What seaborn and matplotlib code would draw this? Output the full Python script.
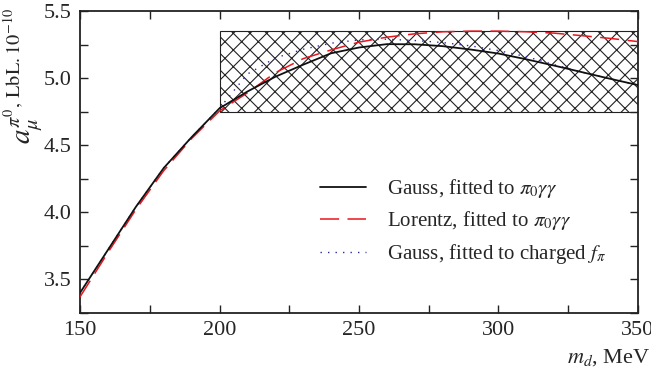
import matplotlib
matplotlib.use("Agg")
import matplotlib.pyplot as plt
import seaborn as sns
from matplotlib.patches import Rectangle
from matplotlib.ticker import MultipleLocator, FormatStrFormatter

# ── Data ──────────────────────────────────────────────────────────────────────
m_d = [150, 160, 170, 180, 190, 200, 210, 220, 230, 240, 250,
       260, 270, 280, 290, 300, 310, 320, 330, 340, 350]

gauss_pi0 = [3.40, 3.72, 4.04, 4.33, 4.56, 4.775, 4.90, 5.01, 5.10, 5.185, 5.228,
             5.253, 5.252, 5.238, 5.213, 5.183, 5.140, 5.093, 5.044, 4.995, 4.948]

lorentz_pi0 = [3.37, 3.70, 4.02, 4.31, 4.55, 4.755, 4.89, 5.04, 5.145, 5.21, 5.268,
               5.305, 5.33, 5.345, 5.35, 5.35, 5.345, 5.335, 5.316, 5.296, 5.272]

gauss_charged = [3.40, 3.72, 4.04, 4.33, 4.56, 4.775, 5.03, 5.15, 5.215, 5.26, 5.285,
                 5.29, 5.28, 5.265, 5.24, 5.205, 5.16, 5.10, 5.044, 4.995, 4.948]

band_x = [200, 350]
band_y = [4.75, 5.35]

labels = [r"Gauss, fitted to $\pi_0\gamma\gamma$",
          r"Lorentz, fitted to $\pi_0\gamma\gamma$",
          r"Gauss, fitted to charged $f_\pi$"]

# ── Style ────────────────────────────────────────────────────────────────────
sns.set_theme(style="ticks")
plt.rcParams["font.family"] = ["Liberation Serif", "DejaVu Serif"]
plt.rcParams["mathtext.fontset"] = "stix"
plt.rcParams["hatch.linewidth"] = 0.8
plt.rcParams["hatch.color"] = "#222222"

fig = plt.figure(figsize=(6.51, 3.69), dpi=100)
ax = fig.add_axes([0.1229, 0.1518, 0.8571, 0.8184])

# hatched band
ax.add_patch(Rectangle((band_x[0], band_y[0]), band_x[1] - band_x[0],
                       band_y[1] - band_y[0], fill=False, hatch="xx",
                       edgecolor="#222222", lw=0.8, zorder=1))

sns.lineplot(x=m_d, y=gauss_charged, ax=ax, color="#2a2aa0", lw=1.0,
             linestyle=(0, (1, 4.4)), label=labels[2], zorder=2)
sns.lineplot(x=m_d, y=lorentz_pi0, ax=ax, color="#e8141e", lw=1.1,
             linestyle=(0, (12.5, 5.5)), label=labels[1], zorder=3)
sns.lineplot(x=m_d, y=gauss_pi0, ax=ax, color="#111111", lw=1.3,
             label=labels[0], zorder=4)

ax.set_xlim(150, 350)
ax.set_ylim(3.25, 5.5)
ax.xaxis.set_major_locator(MultipleLocator(50))
ax.xaxis.set_minor_locator(MultipleLocator(25))
ax.yaxis.set_major_locator(MultipleLocator(0.5))
ax.yaxis.set_minor_locator(MultipleLocator(0.25))
ax.yaxis.set_major_formatter(FormatStrFormatter("%.1f"))
ax.tick_params(which="both", direction="in", top=True, right=True,
               length=6, width=1.0, color="#222222", labelsize=16, pad=6)
for sp in ax.spines.values():
    sp.set_linewidth(1.3)
    sp.set_color("#222222")

ax.set_xlabel(r"$m_d$, MeV", fontsize=16, loc="right")
ax.xaxis.set_label_coords(1.022, -0.112)

ax.set_ylabel(r"$a_\mu^{\pi^0,\,\mathrm{LbL}.10^{-10}}$", fontsize=21)
ax.yaxis.label.set(rotation_mode="default", ha="center", va="top")
ax.yaxis.set_label_coords(-0.1, 1.01)

h, l = ax.get_legend_handles_labels()
hd = dict(zip(l, h))
ax.legend([hd[t] for t in labels], labels, loc="upper left",
          bbox_to_anchor=(0.43, 0.45), frameon=False, fontsize=15,
          handlelength=2.2, handletextpad=1.0, labelspacing=0.45,
          borderaxespad=0, borderpad=0)

fig.savefig("out.png", dpi=100)
